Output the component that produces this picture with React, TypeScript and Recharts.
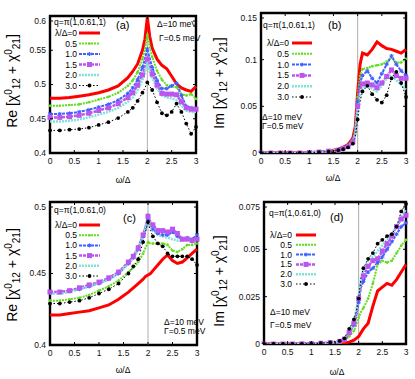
import React from "react";
import { LineChart, Line, XAxis, YAxis, ReferenceLine, ReferenceArea } from "recharts";

// omega / Delta sample points (shared by all four panels)
const OMEGA = [0, 0.2, 0.4, 0.6, 0.8, 1.0, 1.2, 1.4, 1.6, 1.7, 1.8, 1.9, 1.95, 2.0, 2.05, 2.1, 2.2, 2.3, 2.4, 2.5, 2.6, 2.7, 2.8, 2.9, 3.0];

// (a) Re, q = pi(1,0.61,1)
const aL0 = [0.480, 0.480, 0.481, 0.483, 0.485, 0.488, 0.492, 0.498, 0.510, 0.519, 0.530, 0.550, 0.566, 0.598, 0.570, 0.553, 0.537, 0.528, 0.523, 0.512, 0.501, 0.495, 0.492, 0.490, 0.497];
const aL05 = [0.469, 0.469, 0.470, 0.471, 0.474, 0.478, 0.482, 0.488, 0.498, 0.506, 0.518, 0.537, 0.550, 0.573, 0.555, 0.540, 0.520, 0.507, 0.499, 0.497, 0.496, 0.486, 0.484, 0.486, 0.479];
const aL10 = [0.457, 0.457, 0.458, 0.460, 0.463, 0.467, 0.471, 0.477, 0.487, 0.495, 0.507, 0.525, 0.537, 0.552, 0.538, 0.525, 0.506, 0.494, 0.494, 0.498, 0.502, 0.484, 0.468, 0.466, 0.464];
const aL15 = [0.452, 0.452, 0.453, 0.455, 0.458, 0.462, 0.466, 0.472, 0.481, 0.488, 0.499, 0.514, 0.525, 0.537, 0.526, 0.515, 0.499, 0.487, 0.486, 0.486, 0.485, 0.475, 0.466, 0.464, 0.464];
const aL20 = [0.446, 0.446, 0.447, 0.449, 0.452, 0.456, 0.460, 0.466, 0.475, 0.481, 0.492, 0.507, 0.517, 0.530, 0.519, 0.510, 0.494, 0.484, 0.481, 0.480, 0.477, 0.469, 0.462, 0.460, 0.460];
const aL30 = [0.433, 0.433, 0.434, 0.435, 0.437, 0.441, 0.445, 0.451, 0.460, 0.466, 0.476, 0.488, 0.495, 0.503, 0.497, 0.492, 0.474, 0.458, 0.455, 0.460, 0.472, 0.460, 0.443, 0.428, 0.438];

// (b) Im, q = pi(1,0.61,1)
const bL0 = [0, 0, 0, 0, 0, 0.0005, 0.001, 0.002, 0.004, 0.006, 0.009, 0.016, 0.028, 0.065, 0.095, 0.107, 0.105, 0.111, 0.119, 0.115, 0.112, 0.111, 0.109, 0.107, 0.111];
const bL05 = [0, 0, 0, 0, 0, 0.0005, 0.001, 0.002, 0.004, 0.005, 0.008, 0.014, 0.025, 0.060, 0.084, 0.090, 0.091, 0.093, 0.094, 0.095, 0.098, 0.102, 0.097, 0.097, 0.101];
const bL10 = [0, 0, 0, 0, 0, 0.0005, 0.001, 0.002, 0.003, 0.005, 0.008, 0.013, 0.022, 0.055, 0.075, 0.083, 0.088, 0.080, 0.075, 0.085, 0.095, 0.104, 0.095, 0.088, 0.083];
const bL15 = [0, 0, 0, 0, 0, 0.0005, 0.001, 0.002, 0.003, 0.005, 0.007, 0.012, 0.021, 0.050, 0.068, 0.074, 0.075, 0.073, 0.070, 0.075, 0.082, 0.089, 0.083, 0.080, 0.080];
const bL20 = [0, 0, 0, 0, 0, 0.0005, 0.001, 0.002, 0.003, 0.005, 0.007, 0.012, 0.020, 0.048, 0.062, 0.068, 0.073, 0.069, 0.066, 0.072, 0.080, 0.083, 0.078, 0.073, 0.068];
const bL30 = [0, 0, 0, 0, 0, 0.0003, 0.0008, 0.0015, 0.003, 0.004, 0.006, 0.010, 0.016, 0.036, 0.055, 0.066, 0.072, 0.063, 0.057, 0.054, 0.062, 0.080, 0.087, 0.075, 0.060];

// (c) Re, q = pi(1,0.61,0)
const cL0 = [0.421, 0.421, 0.422, 0.423, 0.424, 0.426, 0.428, 0.432, 0.437, 0.440, 0.443, 0.446, 0.448, 0.449, 0.450, 0.452, 0.456, 0.460, 0.463, 0.459, 0.457, 0.458, 0.461, 0.464, 0.467];
const cL05 = [0.431, 0.431, 0.432, 0.433, 0.435, 0.438, 0.441, 0.445, 0.451, 0.454, 0.458, 0.464, 0.468, 0.472, 0.471, 0.471, 0.471, 0.471, 0.470, 0.466, 0.465, 0.467, 0.470, 0.470, 0.471];
const cL10 = [0.437, 0.437, 0.438, 0.439, 0.441, 0.443, 0.446, 0.450, 0.457, 0.461, 0.467, 0.476, 0.481, 0.488, 0.484, 0.481, 0.478, 0.477, 0.477, 0.479, 0.476, 0.474, 0.475, 0.474, 0.477];
const cL15 = [0.437, 0.437, 0.438, 0.440, 0.442, 0.444, 0.447, 0.451, 0.458, 0.462, 0.468, 0.477, 0.483, 0.490, 0.486, 0.484, 0.480, 0.480, 0.479, 0.481, 0.478, 0.474, 0.474, 0.473, 0.474];
const cL20 = [0.436, 0.436, 0.437, 0.439, 0.441, 0.443, 0.446, 0.450, 0.457, 0.461, 0.467, 0.476, 0.482, 0.488, 0.483, 0.480, 0.477, 0.476, 0.475, 0.474, 0.473, 0.473, 0.474, 0.473, 0.473];
const cL30 = [0.429, 0.429, 0.430, 0.431, 0.433, 0.436, 0.439, 0.443, 0.450, 0.455, 0.460, 0.472, 0.479, 0.486, 0.480, 0.476, 0.471, 0.469, 0.464, 0.462, 0.462, 0.462, 0.462, 0.460, 0.456];

// (d) Im, q = pi(1,0.61,0)
const dL0 = [0, 0, 0, 0, 0, 0, 0.0001, 0.0002, 0.0004, 0.0006, 0.001, 0.002, 0.003, 0.004, 0.006, 0.008, 0.011, 0.020, 0.028, 0.030, 0.032, 0.031, 0.034, 0.038, 0.042];
const dL05 = [0, 0, 0, 0, 0, 0.0001, 0.0002, 0.0004, 0.0008, 0.0015, 0.004, 0.007, 0.010, 0.014, 0.017, 0.019, 0.024, 0.032, 0.042, 0.044, 0.043, 0.044, 0.048, 0.052, 0.055];
const dL10 = [0, 0, 0, 0, 0.0001, 0.0002, 0.0003, 0.0006, 0.0012, 0.002, 0.006, 0.010, 0.015, 0.022, 0.030, 0.033, 0.038, 0.040, 0.043, 0.046, 0.050, 0.054, 0.058, 0.062, 0.064];
const dL15 = [0, 0, 0, 0, 0.0001, 0.0002, 0.0004, 0.0007, 0.0014, 0.0025, 0.006, 0.011, 0.016, 0.024, 0.032, 0.036, 0.041, 0.044, 0.045, 0.049, 0.053, 0.057, 0.062, 0.066, 0.068];
const dL20 = [0, 0, 0, 0, 0.0001, 0.0002, 0.0004, 0.0007, 0.0015, 0.003, 0.007, 0.012, 0.018, 0.026, 0.035, 0.039, 0.044, 0.046, 0.049, 0.052, 0.055, 0.058, 0.062, 0.067, 0.071];
const dL30 = [0, 0, 0, 0, 0.0001, 0.0002, 0.0004, 0.0008, 0.0016, 0.003, 0.008, 0.013, 0.017, 0.024, 0.035, 0.040, 0.045, 0.048, 0.053, 0.055, 0.057, 0.058, 0.062, 0.070, 0.074];

const X_TICKS = [0, 0.5, 1, 1.5, 2, 2.5, 3];
const LAMBDA_LABELS = ["λ/Δ=0", "0.5", "1.0", "1.5", "2.0", "3.0"];

const FONT = "'Liberation Sans', Arial, Helvetica, sans-serif";

type Mark = "none" | "dot" | "star" | "square" | "circle";

const STYLES: { key: string; color: string; width: number; dash?: string; mark: Mark }[] = [
  { key: "l0", color: "#ff0000", width: 3 },
  { key: "l05", color: "#66dd22", width: 2, dash: "2 1", mark: "dot" },
  { key: "l10", color: "#4060ff", width: 2, dash: "3 1", mark: "star" },
  { key: "l15", color: "#bb55ee", width: 2.5, dash: "3 1", mark: "square" },
  { key: "l20", color: "#7fe3d6", width: 2.5, dash: "2 1", mark: "none" },
  { key: "l30", color: "#000000", width: 1, dash: "1.5 2", mark: "circle" },
].map((s: any) => ({ mark: "none", ...s }));

function buildRows(series: number[][]) {
  return OMEGA.map((w, i) => {
    const row: any = { w };
    STYLES.forEach((s, k) => (row[s.key] = series[k][i]));
    return row;
  });
}

function Marker({ mark, color, cx, cy }: { mark: Mark; color: string; cx: number; cy: number }) {
  if (mark === "dot") return <circle cx={cx} cy={cy} r={1.3} fill={color} />;
  if (mark === "star")
    return (
      <g stroke={color} strokeWidth={1}>
        <line x1={cx - 2} y1={cy} x2={cx + 2} y2={cy} />
        <line x1={cx} y1={cy - 2} x2={cx} y2={cy + 2} />
        <line x1={cx - 1.5} y1={cy - 1.5} x2={cx + 1.5} y2={cy + 1.5} />
        <line x1={cx - 1.5} y1={cy + 1.5} x2={cx + 1.5} y2={cy - 1.5} />
      </g>
    );
  if (mark === "square") return <rect x={cx - 2.5} y={cy - 2.5} width={5} height={5} fill={color} />;
  if (mark === "circle") return <circle cx={cx} cy={cy} r={1.9} fill={color} />;
  return null;
}

const makeDot = (mark: Mark, color: string) => (props: any) => {
  const { cx, cy, payload, index } = props;
  if (mark === "none" || payload.w === 1.95 || payload.w === 2.05 || cx == null || cy == null)
    return <g key={index} />;
  return (
    <g key={index}>
      <Marker mark={mark} color={color} cx={cx} cy={cy} />
    </g>
  );
};

interface PanelProps {
  L: number;
  R: number;
  T: number;
  B: number;
  domain: [number, number];
  yTicks: number[];
  rows: any[];
}

const YW = 46;
const PAD = 4;
const XH = 20;
const X_MARGIN = 5;
const Y_MARGIN = 4;
const TICK_LEN = 3;

// tick label plus gnuplot-style inward tick marks on both borders
const xTick = (plotH: number) => (props: any) => {
  const { x, y, payload } = props;
  const axisY = y - X_MARGIN;
  return (
    <g>
      <line x1={x} y1={axisY} x2={x} y2={axisY - TICK_LEN} stroke="#000" strokeWidth={1} />
      <line x1={x} y1={axisY - plotH} x2={x} y2={axisY - plotH + TICK_LEN} stroke="#000" strokeWidth={1} />
      <text x={x} y={y} dy="0.71em" textAnchor="middle" fontSize={8.5} fontFamily={FONT} fill="#111">
        {payload.value}
      </text>
    </g>
  );
};

const yTick = (plotW: number) => (props: any) => {
  const { x, y, payload } = props;
  const axisX = x + Y_MARGIN;
  return (
    <g>
      <line x1={axisX} y1={y} x2={axisX + TICK_LEN} y2={y} stroke="#000" strokeWidth={1} />
      <line x1={axisX + plotW} y1={y} x2={axisX + plotW - TICK_LEN} y2={y} stroke="#000" strokeWidth={1} />
      <text x={x} y={y} dy="0.35em" textAnchor="end" fontSize={8.5} fontFamily={FONT} fill="#111">
        {payload.value}
      </text>
    </g>
  );
};

function Panel({ L, R, T, B, domain, yTicks, rows }: PanelProps) {
  const w = YW + (R - L) + PAD;
  const h = PAD + (B - T) + XH;
  return (
    <div style={{ position: "absolute", left: L - YW, top: T - PAD }}>
      <LineChart width={w} height={h} data={rows} margin={{ top: PAD, right: PAD, left: 0, bottom: 0 }}>
        <XAxis
          dataKey="w"
          type="number"
          domain={[0, 3]}
          ticks={X_TICKS}
          height={XH}
          tickLine={false}
          axisLine={false}
          tickSize={0}
          tickMargin={X_MARGIN}
          tick={xTick(B - T)}
        />
        <YAxis
          type="number"
          domain={domain}
          ticks={yTicks}
          allowDataOverflow
          width={YW}
          tickLine={false}
          axisLine={false}
          tickSize={0}
          tickMargin={Y_MARGIN}
          tick={yTick(R - L)}
        />
        <ReferenceLine x={2} stroke="#999" strokeWidth={0.8} />
        {STYLES.map((s) => (
          <Line
            key={s.key}
            dataKey={s.key}
            type="linear"
            stroke={s.color}
            strokeWidth={s.width}
            strokeDasharray={s.dash}
            dot={makeDot(s.mark, s.color)}
            activeDot={false}
            isAnimationActive={false}
          />
        ))}
        <ReferenceArea x1={0} x2={3} y1={domain[0]} y2={domain[1]} fill="none" stroke="#000" strokeWidth={2.4} />
      </LineChart>
    </div>
  );
}

function YLabel({ x, y, part }: { x: number; y: number; part: string }) {
  return (
    <text x={x} y={y} transform={`rotate(-90 ${x} ${y})`} textAnchor="middle" fontSize={14} fontFamily={FONT} fill="#000">
      {part} [χ
      <tspan fontSize={10} dy={-5}>0</tspan>
      <tspan fontSize={10} dy={8}>12</tspan>
      <tspan dy={-3}> + χ</tspan>
      <tspan fontSize={10} dy={-5}>0</tspan>
      <tspan fontSize={10} dy={8}>21</tspan>
      <tspan dy={-3}>]</tspan>
    </text>
  );
}

function Legend({ xr, x1, x2, y0, step }: { xr: number; x1: number; x2: number; y0: number; step: number }) {
  return (
    <g>
      {STYLES.map((s, i) => {
        const y = y0 + i * step;
        return (
          <g key={s.key}>
            <text x={xr} y={y + 3} textAnchor="end" fontSize={8.5} fontFamily={FONT} fill="#000">
              {LAMBDA_LABELS[i]}
            </text>
            <line x1={x1} y1={y} x2={x2} y2={y} stroke={s.color} strokeWidth={s.width} strokeDasharray={s.dash} />
            <Marker mark={s.mark} color={s.color} cx={(x1 + x2) / 2} cy={y} />
          </g>
        );
      })}
    </g>
  );
}

function Note({ x, y, children, size = 8.5, anchor = "start" }: any) {
  return (
    <text x={x} y={y} fontSize={size} fontFamily={FONT} fill="#000" textAnchor={anchor}>
      {children}
    </text>
  );
}

export default function App() {
  return (
    <div style={{ position: "absolute", left: 0, top: 0, width: 415, height: 379, background: "#fff" }}>
      <Panel L={50} R={196} T={16} B={153} domain={[0.4, 0.6]} yTicks={[0.4, 0.45, 0.5, 0.55, 0.6]} rows={buildRows([aL0, aL05, aL10, aL15, aL20, aL30])} />
      <Panel L={261} R={406} T={13} B={153} domain={[0, 0.15]} yTicks={[0, 0.05, 0.1, 0.15]} rows={buildRows([bL0, bL05, bL10, bL15, bL20, bL30])} />
      <Panel L={50} R={197} T={202} B={345} domain={[0.4, 0.5]} yTicks={[0.4, 0.45, 0.5]} rows={buildRows([cL0, cL05, cL10, cL15, cL20, cL30])} />
      <Panel L={264} R={406} T={202} B={344} domain={[0, 0.075]} yTicks={[0, 0.025, 0.05, 0.075]} rows={buildRows([dL0, dL05, dL10, dL15, dL20, dL30])} />

      <svg width={415} height={379} style={{ position: "absolute", left: 0, top: 0, pointerEvents: "none" }}>
        <YLabel x={17} y={81} part="Re" />
        <YLabel x={224} y={83} part="Im" />
        <YLabel x={17} y={275} part="Re" />
        <YLabel x={224} y={281} part="Im" />

        <Note x={123} y={183} anchor="middle">ω/Δ</Note>
        <Note x={333} y={181} anchor="middle">ω/Δ</Note>
        <Note x={123} y={373} anchor="middle">ω/Δ</Note>
        <Note x={337} y={375} anchor="middle">ω/Δ</Note>

        {/* (a) */}
        <Note x={54} y={25}>q=π(1,0.61,1)</Note>
        <Note x={116} y={29} size={11}>(a)</Note>
        <Note x={157} y={27}>Δ=10 meV</Note>
        <Note x={159} y={41}>Γ=0.5 meV</Note>
        <Legend xr={77} x1={79} x2={100} y0={33} step={10.5} />

        {/* (b) */}
        <Note x={263} y={28}>q=π(1,0.61,1)</Note>
        <Note x={328} y={29} size={11}>(b)</Note>
        <Note x={262} y={120}>Δ=10 meV</Note>
        <Note x={262} y={129}>Γ=0.5 meV</Note>
        <Legend xr={289} x1={292} x2={312} y0={43} step={10.8} />

        {/* (c) */}
        <Note x={54} y={213}>q=π(1,0.61,0)</Note>
        <Note x={123} y={222} size={11}>(c)</Note>
        <Note x={164} y={325}>Δ=10 meV</Note>
        <Note x={164} y={334}>Γ=0.5 meV</Note>
        <Legend xr={77} x1={79} x2={100} y0={225} step={10.2} />

        {/* (d) */}
        <Note x={269} y={216}>q=π(1,0.61,0)</Note>
        <Note x={330} y={221} size={11}>(d)</Note>
        <Note x={270} y={315}>Δ=10 meV</Note>
        <Note x={270} y={328}>Γ=0.5 meV</Note>
        <Legend xr={292} x1={296} x2={316} y0={235} step={9.8} />
      </svg>
    </div>
  );
}
